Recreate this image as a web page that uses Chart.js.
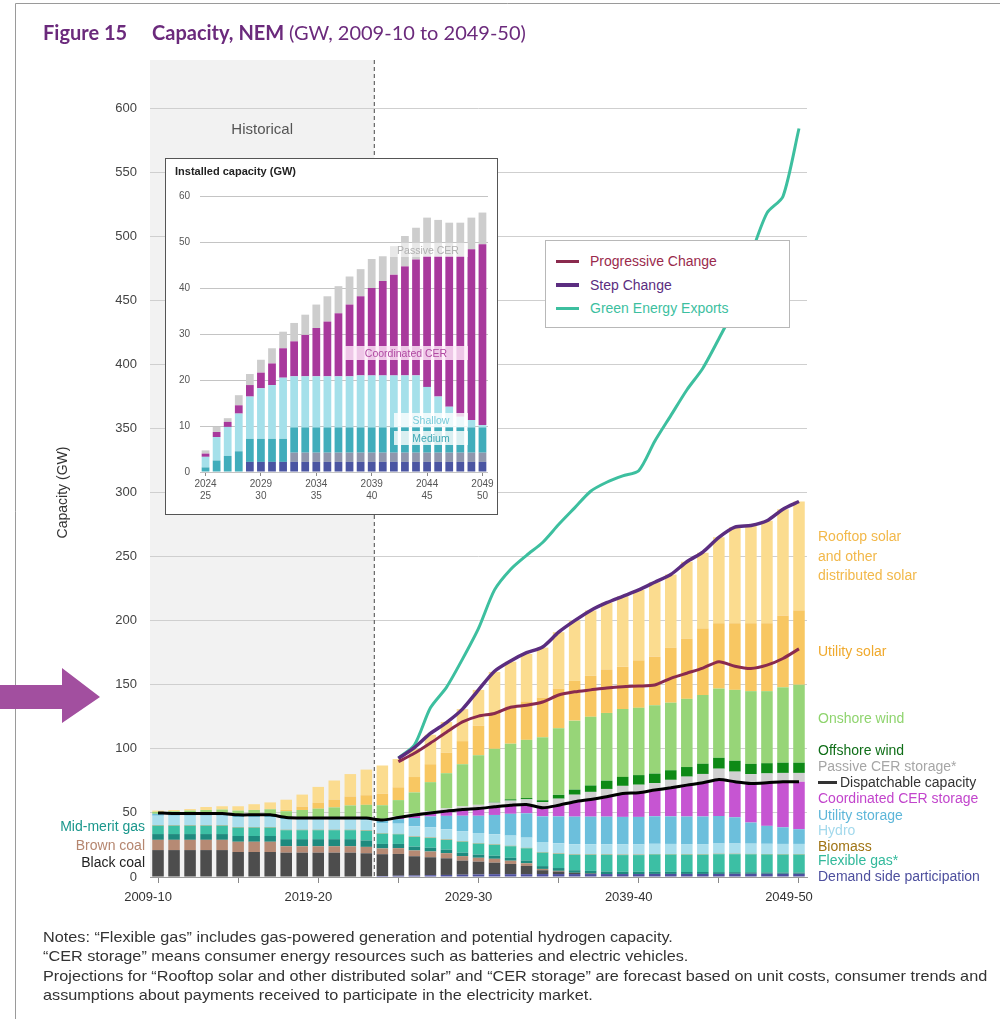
<!DOCTYPE html>
<html>
<head>
<meta charset="utf-8">
<script src="https://cdn.jsdelivr.net/npm/chart.js@4.4.0/dist/chart.umd.min.js"></script>
<style>
  body { margin: 0; background: #fff; }
  #wrap { position: relative; width: 1000px; height: 1019px; overflow: hidden; font-family: 'Liberation Sans', Arial, sans-serif; }
  #main { position: absolute; left: 0; top: 0; }
  #insetBox { position: absolute; left: 165px; top: 158px; width: 333px; height: 357px; border: 1px solid #555; background: #fff; box-sizing: border-box; }
  #legendBox { position: absolute; left: 545px; top: 240px; width: 245px; height: 88px; border: 1px solid #b8b8b8; background: #fff; box-sizing: border-box; }
  .lg { position: absolute; left: 44px; font-size: 14px; }
  .lgline { position: absolute; left: 10px; width: 23px; }
  .ttl { position: absolute; top: 20px; font-family: Lato, 'DejaVu Sans', sans-serif; font-size: 20px; color: #6b2a7c; white-space: nowrap; }
  #notes { position: absolute; left: 43px; top: 928px; font-family: 'Liberation Sans', Arial, sans-serif; font-size: 14.5px; line-height: 19.3px; color: #333; white-space: nowrap; transform: scaleX(1.12); transform-origin: left top; }
</style>
</head>
<body>
<div id="wrap">
  <canvas id="main" width="1000" height="1019"></canvas>
  <div class="ttl" style="left:43px;font-weight:bold;">Figure 15</div>
  <div class="ttl" style="left:152px;font-weight:bold;">Capacity, NEM <span style="font-weight:normal">(GW, 2009-10 to 2049-50)</span></div>
  <div id="insetBox"><canvas id="inset" width="331" height="355"></canvas></div>
  <div id="legendBox">
    <div class="lgline" style="top:19px;height:3px;background:#8a2a4e"></div>
    <div class="lg" style="top:12px;color:#9a2a4c">Progressive Change</div>
    <div class="lgline" style="top:42px;height:4px;background:#5b2d80"></div>
    <div class="lg" style="top:36px;color:#5b2d80">Step Change</div>
    <div class="lgline" style="top:66px;height:3px;background:#3dbf9f"></div>
    <div class="lg" style="top:59px;color:#3dbf9f">Green Energy Exports</div>
  </div>
  <div id="notes">
    Notes: “Flexible gas” includes gas-powered generation and potential hydrogen capacity.<br>
    “CER storage” means consumer energy resources such as batteries and electric vehicles.<br>
    Projections for “Rooftop solar and other distributed solar” and “CER storage” are forecast based on unit costs, consumer trends and<br>
    assumptions about payments received to participate in the electricity market.
  </div>
</div>
<script>
// categories
const years = ['2009-10','2010-11','2011-12','2012-13','2013-14','2014-15','2015-16','2016-17','2017-18','2018-19',
  '2019-20','2020-21','2021-22','2022-23','2023-24','2024-25','2025-26','2026-27','2027-28','2028-29',
  '2029-30','2030-31','2031-32','2032-33','2033-34','2034-35','2035-36','2036-37','2037-38','2038-39',
  '2039-40','2040-41','2041-42','2042-43','2043-44','2044-45','2045-46','2046-47','2047-48','2048-49','2049-50'];

// stacked capacity (GW), bottom to top
const demandSide = [0,0,0,0,0,0,0,0,0,0,0,0,0,0, 0.8,1,1.2,1.4,1.6,1.8,2,2.2,2.2,2.2,2.3,2.3,2.3,2.3,2.3,2.3,2.3,2.4,2.4,2.4,2.4,2.4,2.5,2.5,2.5,2.5,2.5];
const blackCoal = [21,21,21,21,21,19.5,19.5,19.5,19,19,19,19,19,18.5, 17,17,15,14,13,11,10,9,8,6.5,3,2,1,0.5, 0,0,0,0,0,0,0,0,0,0,0,0,0];
const brownCoal = [8,8,8,8,8,8,8,8,5,5,5,5,5,5, 4.5,4.5,4.5,4.5,4,3.5,3,3,2.5,2,1,0.5, 0,0,0,0,0,0,0,0,0,0,0,0,0,0,0];
const midMeritGas = [4.5,4.5,4.5,4.5,4.5,4.5,4.5,4.5,5.5,5.5,5.5,5.5,5.5,5, 3.5,3.3,3,3,2.8,2.7,2.5,2.4,2.3,2.2,2.2,2.2,2,2,2,1.8,1.8,1.7,1.6,1.5,1.5,1.4,1.3,1.2,1.1,1,1];
const flexibleGas = [6.5,6.5,6.5,6.5,6.5,6.5,6.5,6.5,7,7,7,7,7,7.5, 8,7.5,7.5,7.5,7.5,8.5,8.5,8.5,9,9.5,10.5,11,12,12.5,13,13,13,13.5,13.5,13.5,13.5,14,14,14,14,14,14];
const biomass = [0.3,0.3,0.3,0.3,0.3,0.3,0.3,0.3,0.3,0.3,0.3,0.3,0.3,0.3,0.3,0.3,0.3,0.3,0.3,0.3,0.3,0.3,0.3,0.3,0.3,0.3,0.3,0.3,0.3,0.3,0.3,0.3,0.3,0.3,0.3,0.3,0.3,0.3,0.3,0.3,0.3];
const hydro = [7.5,7.5,7.5,7.5,7.5,8,8,8,8,8,8,8,8,8,8,8,8,8,8,8,8,8,8,8,8,8,8,8,8,8,8,8,8,8,8,8,8,8,8,8,8];
const utilityStorage = [1.5,1.5,1.5,1.5,1.5,1.5,1.5,1.5,1.5,1.5,1.5,1.5,1.5,1.5, 2,3.5,6.5,8.5,10.5,12,13.5,15,17,19,20,21, 21.5,21.5,21.5,21.5,21.5,21.5,21.5,21.5,21.5,21.5, 20.5,16.5,14,13,11.5];
const coordinatedCer = [0,0,0,0,0,0,0,0,0,0,0,0,0,0, 0.3,1.4,2.3,2.8,3.7,4.9,5.7,6.4,6.7,6.9,6.7,8.7,11.6,13.4,15.5,18.3,18.8,20.4,22.3,24.5,26.3,28.5,27.7,30.5,33.6,35.5,37];
const passiveCer = [0,0,0,0,0,0,0,0,0,0,0,0,0,0, 0.3,0.7,1.1,1.5,2.2,2.4,2.8,3.3,3.6,4,4.4,5.1,5.5,5.9,6.1,5.9,6.3,5.4,6.2,6.6,6.9,8.4,7.9,7.3,7.3,6.9,6.9];
const offshoreWind = [0,0,0,0,0,0,0,0,0,0,0,0,0,0,0,0,0,0,0,0,0, 0.5,1,1,1.5,3,4,5,6.5,7,7.5,7.5,7.5,7.5,8,8.5,8.5,8,8,8,8];
const onshoreWind = [1.5,2,2.5,3,3.3,3.5,4,4.5,5,6,7,8,9.5,10.5, 11.3,12.8,16.6,22.5,27.4,32.9,38.7,41.4,43.4,45.4,49.1,51.9,53.8,53.6,52.8,52.9,52.5,53.3,52.7,53.2,53.6,54,55.3,56.7,56.2,58.8,60.8];
const utilitySolar = [0,0,0,0,0,0.1,0.2,0.3,1,2.5,4.5,6,7,7.5, 9,10,12,14,16,18,23,28,29,30,31,31,31,32,34,33,37,38,43,47,52,51,52,53,53,56,58];
const rooftopSolar = [1,1,1.2,2.3,2.6,3.3,4.3,5.1,8,9.5,12.5,15,17.5,20, 22,22,22,23,24,25,28,32,35,37,39,44,47,51,52,55,55,58,57,60,59,67,75,76,80,83,85];

// lines (GW)
const dispatchable = [50,49.5,49.5,49.5,49.5,48.5,48.5,48.5,46.5,46,46,46,46,46,44.4,46.5,48.3,50,51.4,52.7,53.5,54.8,56,56.6,54,56,58.7,60.5,62.6,65.2,65.7,67.8,69.6,71.7,73.5,76.1,74.3,73,73.5,74.3,74.3];
const noData = [null,null,null,null,null,null,null,null,null,null,null,null,null,null,null];
const progressiveChange = noData.concat([90,96.5,104.5,113,121,125.5,127.6,132.5,134,136.5,142,144.5,146,147.5,148.5,149,149.8,155,159,163,168,164.5,162.7,165.3,170.5,178]);
const stepChange = noData.concat([92.5,101,112,120.5,131,146,160.5,168.5,175,179.5,191,200,208,214,219,224,230,236,246,253.5,265,273,274.3,278,287,293]);
const greenExports = noData.concat([93,103,132,148,170,194,224,240,251,261,275,288,301,308,313,317,340,360,380,397,420,445,485,518,531,584]);

const yTicks = [0,50,100,150,200,250,300,350,400,450,500,550,600];

// inset: installed storage capacity (GW)
const insetYears = years.slice(15);
const insetDeepA = [0,0,0,0,2.2,2.2,2.2,2.2,2.2,2.2,2.2,2.2,2.2,2.2,2.2,2.2,2.2,2.2,2.2,2.2,2.2,2.2,2.2,2.2,2.2,2.2];
const insetDeepB = [0,0,0,0,0,0,0,0,2,2,2,2,2,2,2,2,2,2,2,2,2,2,2,2,2,2];
const insetMedium = [1,2.5,3.5,4.5,5,5,5,5,5.5,5.5,5.5,5.5,5.5,5.5,5.5,5.5,5.5,5.5,5.5,5.5,5.5,5.5,5.5,5.5,5.5,5.5];
const insetShallow = [2.3,5.1,6.3,8.2,9.2,11,11.7,13.3,11.1,11.1,11.1,11.1,11.1,11.1,11.3,11.3,11.3,11.3,11.3,11.3,8.8,6.7,4.5,2.3,1.6,0.5];
const insetCoordinated = [0.7,1.1,1.1,1.8,2.5,3.4,4.7,6.4,7.6,9,10.5,11.9,13.7,15.6,17.2,19,20.5,21.9,23.7,25.2,28.4,30.5,32.7,34.9,37.1,39.3];
const insetPassive = [0.7,1.1,0.8,2.2,2.4,2.8,3.3,3.6,4,4.4,5.1,5.5,5.9,6.1,5.9,6.3,5.4,6.2,6.6,6.9,8.4,7.9,7.3,7.3,6.9,6.9];

const FONT = "'Liberation Sans', Arial, sans-serif";

function bar(label, data, color) {
  return { type: 'bar', label, data, backgroundColor: color, stack: 'cap', order: 1,
    barPercentage: 0.72, categoryPercentage: 1 };
}
function line(label, data, color, width, stack) {
  return { type: 'line', label, data, borderColor: color, backgroundColor: color, borderWidth: width,
    pointRadius: 0, tension: 0.25, stack, order: 0, fill: false };
}

const rightLabels = [
  ['Rooftop solar', 541, '#f2b84a'], ['and other', 561, '#f2b84a'], ['distributed solar', 580, '#f2b84a'],
  ['Utility solar', 656, '#f0a92c'], ['Onshore wind', 723, '#8fd46e'], ['Offshore wind', 755, '#0f6e18'],
  ['Passive CER storage*', 771, '#a6a6a6'], ['Dispatchable capacity', 787, '#333'],
  ['Coordinated CER storage', 803, '#c245cc'], ['Utility storage', 820, '#5db6d9'], ['Hydro', 835, '#a3d9ec'],
  ['Biomass', 851, '#a07414'], ['Flexible gas*', 865, '#32b99b'], ['Demand side participation', 881, '#4d4f9e']
];
const leftLabels = [['Mid-merit gas', 831, '#1a978c'], ['Brown coal', 850, '#b5866f'], ['Black coal', 867, '#222']];

const decor = {
  id: 'decor',
  beforeDraw(chart) {
    const c = chart.ctx, xs = chart.scales.x, a = chart.chartArea;
    const edge = (xs.getPixelForValue(13) + xs.getPixelForValue(14)) / 2;
    c.save();
    c.fillStyle = '#f2f2f2';
    c.fillRect(a.left, 60, edge - a.left, a.bottom - 60);
    c.fillStyle = '#555';
    c.font = '15px ' + FONT;
    c.textAlign = 'center';
    c.fillText('Historical', (a.left + edge) / 2, 134);
    c.restore();
  },
  beforeDatasetsDraw(chart) {
    const c = chart.ctx, xs = chart.scales.x, a = chart.chartArea;
    const edge = (xs.getPixelForValue(13) + xs.getPixelForValue(14)) / 2;
    c.save();
    c.strokeStyle = '#666';
    c.lineWidth = 1.2;
    c.setLineDash([4, 3]);
    c.beginPath();
    c.moveTo(edge, 60);
    c.lineTo(edge, a.bottom);
    c.stroke();
    c.restore();
  },
  afterDraw(chart) {
    const c = chart.ctx;
    c.save();
    // frame
    c.strokeStyle = '#9a9a9a';
    c.lineWidth = 1;
    c.beginPath();
    c.moveTo(15.5, 1019); c.lineTo(15.5, 3.5); c.lineTo(1000, 3.5);
    c.stroke();
    // labels
    c.font = '14px ' + FONT;
    c.textAlign = 'left';
    rightLabels.forEach(([t, y, col]) => {
      c.fillStyle = col;
      if (t === 'Dispatchable capacity') {
        c.fillRect(818, y - 6, 19, 3);
        c.fillText(t, 840, y);
      } else {
        c.fillText(t, 818, y);
      }
    });
    c.textAlign = 'right';
    leftLabels.forEach(([t, y, col]) => { c.fillStyle = col; c.fillText(t, 145, y); });
    // arrow
    c.fillStyle = '#a24f9f';
    c.beginPath();
    c.moveTo(0, 685); c.lineTo(62, 685); c.lineTo(62, 668); c.lineTo(100, 697);
    c.lineTo(62, 723); c.lineTo(62, 709); c.lineTo(0, 709);
    c.closePath();
    c.fill();
    c.restore();
  }
};

new Chart(document.getElementById('main'), {
  type: 'bar',
  data: {
    labels: years,
    datasets: [
      line('Progressive Change', progressiveChange, '#8a2a4e', 3, 'p'),
      line('Step Change', stepChange, '#5b2d80', 3.5, 's'),
      line('Green Energy Exports', greenExports, '#3dbf9f', 3, 'g'),
      line('Dispatchable capacity', dispatchable, '#000', 3, 'd'),
      bar('Demand side participation', demandSide, '#4d4f9e'),
      bar('Black coal', blackCoal, '#4d4d4d'),
      bar('Brown coal', brownCoal, '#b68a74'),
      bar('Mid-merit gas', midMeritGas, '#1e8a7e'),
      bar('Flexible gas', flexibleGas, '#3cbfa4'),
      bar('Biomass', biomass, '#9e7a2a'),
      bar('Hydro', hydro, '#aadeed'),
      bar('Utility storage', utilityStorage, '#6cbfdc'),
      bar('Coordinated CER storage', coordinatedCer, '#c655d2'),
      bar('Passive CER storage', passiveCer, '#d0d0d0'),
      bar('Offshore wind', offshoreWind, '#0e8a16'),
      bar('Onshore wind', onshoreWind, '#97d578'),
      bar('Utility solar', utilitySolar, '#f8c762'),
      bar('Rooftop solar and other distributed solar', rooftopSolar, '#fbdc8f')
    ]
  },
  options: {
    responsive: false,
    animation: false,
    layout: { padding: { left: 55, top: 108, right: 193, bottom: 112 } },
    plugins: { legend: { display: false }, tooltip: { enabled: false } },
    scales: {
      x: {
        stacked: true,
        afterFit: s => { s.height = 30; },
        border: { display: true, color: '#9a9a9a' },
        grid: {
          offset: false, drawOnChartArea: false, tickLength: 6,
          color: ctx => (ctx.index % 5 === 0 ? '#888' : 'rgba(0,0,0,0)')
        },
        ticks: {
          autoSkip: false, maxRotation: 0, labelOffset: -10, padding: 7,
          color: '#333', font: { size: 13, family: FONT },
          callback: (v, i) => (i % 10 === 0 ? years[i] : '')
        }
      },
      y: {
        stacked: true,
        min: 0, max: 600,
        afterFit: s => { s.width = 95; },
        afterBuildTicks: s => { s.ticks = yTicks.map(v => ({ value: v })); },
        border: { display: false },
        grid: { color: '#cfcfcf', drawTicks: false },
        ticks: { padding: 13, color: '#444', font: { size: 13, family: FONT } },
        title: { display: true, text: 'Capacity (GW)', color: '#333', font: { size: 14, family: FONT }, padding: 0 }
      }
    }
  },
  plugins: [decor]
});

// inset chart
const insetNotes = {
  id: 'insetNotes',
  afterDraw(chart) {
    const c = chart.ctx;
    c.save();
    c.fillStyle = '#222';
    c.font = 'bold 11px ' + FONT;
    c.textAlign = 'left';
    c.fillText('Installed capacity (GW)', 9, 16);
    const tags = [
      ['Passive CER', 222, 84, 80, 'rgba(255,255,255,0.55)', '#b0b0b0'],
      ['Coordinated CER', 178, 187, 124, 'rgba(255,235,250,0.8)', '#b04aa2'],
      ['Shallow', 228, 254, 74, 'rgba(255,255,255,0.8)', '#78cbd9'],
      ['Medium', 228, 272, 74, 'rgba(255,255,255,0.8)', '#3ea7b4']
    ];
    c.font = '10.5px ' + FONT;
    c.textAlign = 'center';
    tags.forEach(([t, x, y, w, bg, col]) => {
      c.fillStyle = bg;
      c.fillRect(x, y, w, 14);
      c.fillStyle = col;
      c.fillText(t, x + w / 2, y + 11);
    });
    c.restore();
  }
};

function ibar(label, data, color) {
  return { label, data, backgroundColor: color, barPercentage: 0.7, categoryPercentage: 1 };
}

new Chart(document.getElementById('inset'), {
  type: 'bar',
  data: {
    labels: insetYears,
    datasets: [
      ibar('Deep A', insetDeepA, '#4a55a2'),
      ibar('Deep B', insetDeepB, '#8f97ad'),
      ibar('Medium', insetMedium, '#41adbb'),
      ibar('Shallow', insetShallow, '#a5e0ea'),
      ibar('Coordinated CER', insetCoordinated, '#a8399c'),
      ibar('Passive CER', insetPassive, '#cdcdcd')
    ]
  },
  options: {
    responsive: false,
    animation: false,
    layout: { padding: { left: 4, top: 37, right: 9, bottom: 12 } },
    plugins: { legend: { display: false }, tooltip: { enabled: false } },
    scales: {
      x: {
        stacked: true,
        afterFit: s => { s.height = 30; },
        border: { display: false },
        grid: {
          offset: false, drawOnChartArea: false, tickLength: 4,
          color: ctx => (ctx.index % 5 === 0 ? '#888' : 'rgba(0,0,0,0)')
        },
        ticks: {
          autoSkip: false, maxRotation: 0, padding: 2,
          color: '#555', font: { size: 10, family: FONT },
          callback: (v, i) => (i % 5 === 0 ? [insetYears[i].slice(0, 4), insetYears[i].slice(5)] : '')
        }
      },
      y: {
        stacked: true,
        min: 0, max: 60,
        afterFit: s => { s.width = 30; },
        border: { display: false },
        grid: { color: '#c4c4c4', drawTicks: false },
        ticks: { stepSize: 10, padding: 10, color: '#555', font: { size: 10, family: FONT } }
      }
    }
  },
  plugins: [insetNotes]
});
</script>
</body>
</html>
